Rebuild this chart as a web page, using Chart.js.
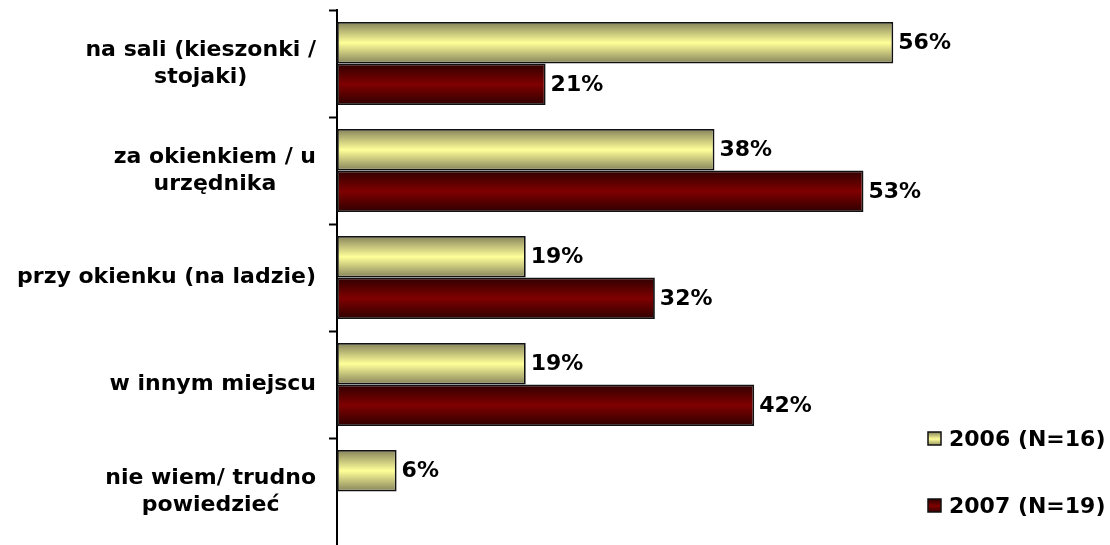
<!DOCTYPE html>
<html>
<head>
<meta charset="utf-8">
<script src="https://cdn.jsdelivr.net/npm/chart.js@4"></script>
<style>
  html, body { margin: 0; padding: 0; background: #fff; }
  #wrap { width: 1110px; height: 545px; }
</style>
</head>
<body>
<div id="wrap"><canvas id="placesChart" width="1110" height="545"></canvas></div>
<script>
// where the forms are picked up, share of answers
const categories = [
    ["na sali (kieszonki /", "stojaki)"],
    ["za okienkiem / u", "urzędnika"],
    ["przy okienku (na ladzie)"],
    ["w innym miejscu"],
    ["nie wiem/ trudno", "powiedzieć"]
];
const seriesNames = ["2006 (N=16)", "2007 (N=19)"];
const values2006 = [56, 38, 19, 19, 6];
const values2007 = [21, 53, 32, 42, null];

const FONT = "bold 22px 'DejaVu Sans', Tahoma, sans-serif";

// light in the middle, dark at both edges
const palettes = [
    { edge: "#85825a", mid: "#ffff99" },
    { edge: "#2e0000", mid: "#800000" }
];

function makeGradient(ctx, top, bottom, pal) {
    const g = ctx.createLinearGradient(0, top, 0, bottom);
    g.addColorStop(0, pal.edge);
    g.addColorStop(0.5, pal.mid);
    g.addColorStop(1, pal.edge);
    return g;
}

// give every bar its own vertical gradient
const barGradients = {
    id: "barGradients",
    beforeDatasetsDraw(chart) {
        const ctx = chart.ctx;
        chart.data.datasets.forEach((ds, di) => {
            chart.getDatasetMeta(di).data.forEach(el => {
                const top = el.y - el.height / 2;
                const bottom = el.y + el.height / 2;
                el.options = Object.assign({}, el.options, {
                    backgroundColor: makeGradient(ctx, top, bottom, palettes[di])
                });
            });
        });
    }
};

// percentages after the bar ends
const valueLabels = {
    id: "valueLabels",
    afterDatasetsDraw(chart) {
        const ctx = chart.ctx;
        ctx.save();
        ctx.font = FONT;
        ctx.fillStyle = "#000";
        ctx.textAlign = "left";
        ctx.textBaseline = "middle";
        chart.data.datasets.forEach((ds, di) => {
            chart.getDatasetMeta(di).data.forEach((el, i) => {
                if (ds.data[i] == null) return;
                ctx.fillText(ds.data[i] + "%", el.x + 5, el.y + 1);
            });
        });
        ctx.restore();
    }
};

// category names: block right-aligned to the axis, lines centred inside it
const categoryLabels = {
    id: "categoryLabels",
    afterDraw(chart) {
        const ctx = chart.ctx;
        const yScale = chart.scales.y;
        const right = chart.chartArea.left - 21;
        const lineH = 27;
        ctx.save();
        ctx.font = FONT;
        ctx.fillStyle = "#000";
        ctx.textAlign = "center";
        ctx.textBaseline = "middle";
        categories.forEach((lines, i) => {
            const y = yScale.getPixelForValue(i);
            const w = Math.max(...lines.map(l => ctx.measureText(l).width));
            const cx = right - w / 2;
            const y0 = y - (lines.length - 1) * lineH / 2;
            lines.forEach((l, k) => ctx.fillText(l, cx, y0 + k * lineH));
        });
        ctx.restore();
    }
};

// legend in the lower right corner
const sideLegend = {
    id: "sideLegend",
    afterDraw(chart) {
        const ctx = chart.ctx;
        const rows = [439, 506];
        ctx.save();
        ctx.font = FONT;
        ctx.textAlign = "left";
        ctx.textBaseline = "middle";
        chart.data.datasets.forEach((ds, di) => {
            const y = rows[di];
            ctx.fillStyle = makeGradient(ctx, y - 7, y + 7, palettes[di]);
            ctx.fillRect(928, y - 7, 13, 13);
            ctx.lineWidth = 1.5;
            ctx.strokeStyle = "#111";
            ctx.strokeRect(928, y - 7, 13, 13);
            ctx.fillStyle = "#000";
            ctx.fillText(ds.label, 949, y + 1);
        });
        ctx.restore();
    }
};

const barStyle = {
    categoryPercentage: 0.775,
    barPercentage: 1,
    borderColor: "#111",
    borderWidth: 1.8,
    borderSkipped: false
};

new Chart(document.getElementById("placesChart"), {
    type: "bar",
    data: {
        labels: categories,
        datasets: [
            Object.assign({ label: seriesNames[0], data: values2006, backgroundColor: "#ffff99" }, barStyle),
            Object.assign({ label: seriesNames[1], data: values2007, backgroundColor: "#800000" }, barStyle)
        ]
    },
    options: {
        indexAxis: "y",
        responsive: false,
        animation: false,
        events: [],
        layout: { padding: { top: 10, bottom: -4, right: 177, left: 0 } },
        scales: {
            x: { display: false, min: 0, max: 60 },
            y: {
                offset: true,
                afterFit(scale) { scale.width = 337; },
                ticks: { display: false },
                grid: {
                    offset: true,
                    drawOnChartArea: false,
                    drawTicks: true,
                    tickLength: 8,
                    tickWidth: 2,
                    color: "#000",
                    // the closing mark below the last category is not drawn
                    tickColor: (c) => c.type === "tick" ? "#000" : "rgba(0,0,0,0)"
                },
                border: { display: true, color: "#000", width: 2 }
            }
        },
        plugins: {
            legend: { display: false },
            tooltip: { enabled: false }
        }
    },
    plugins: [barGradients, valueLabels, categoryLabels, sideLegend]
});
</script>
</body>
</html>
